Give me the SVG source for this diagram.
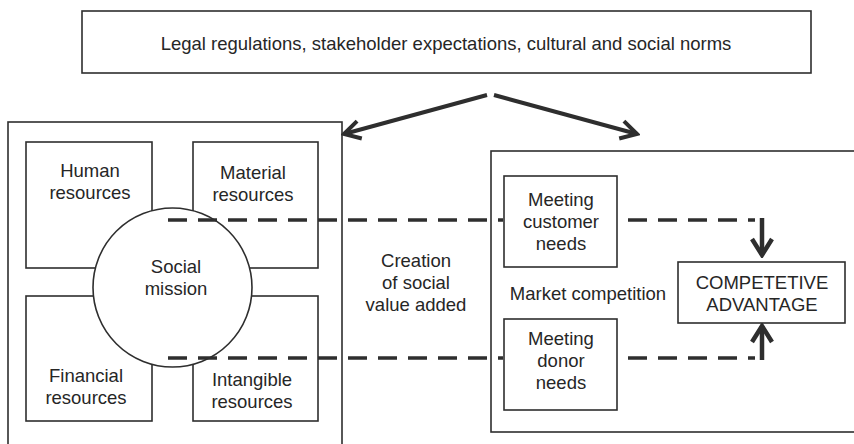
<svg xmlns="http://www.w3.org/2000/svg" width="854" height="444" viewBox="0 0 854 444">
  <style>
    .box { fill: #ffffff; stroke: #2e2e2e; stroke-width: 1.6; }
    .frame { fill: none; stroke: #2e2e2e; stroke-width: 1.6; }
    .lbl { font-family: "Liberation Sans", Arial, Helvetica, sans-serif; font-size: 18.5px; fill: #262626; text-anchor: middle; }
    .dash { fill: none; stroke: #2e2e2e; stroke-width: 3.6; stroke-dasharray: 19 11; }
    .arrow { fill: none; stroke: #2e2e2e; stroke-width: 4; marker-end: url(#chev); }
    .shaft { fill: none; stroke: #2e2e2e; stroke-width: 4.5; marker-end: url(#chevBold); }
  </style>
  <defs>
    <marker id="chev" viewBox="0 0 22 22" refX="19" refY="11" markerWidth="22" markerHeight="22" markerUnits="userSpaceOnUse" orient="auto">
      <path d="M3,2 L19,11 L3,20" fill="none" stroke="#2e2e2e" stroke-width="4" stroke-linejoin="miter"/>
    </marker>
    <marker id="chevBold" viewBox="0 0 22 24" refX="19" refY="12" markerWidth="22" markerHeight="24" markerUnits="userSpaceOnUse" orient="auto">
      <path d="M3,2 L19,12 L3,22" fill="none" stroke="#2e2e2e" stroke-width="4.5" stroke-linejoin="miter"/>
    </marker>
  </defs>

  <rect width="854" height="444" fill="#ffffff"/>

  <!-- external environment -->
  <g id="environment">
    <rect x="82" y="11" width="729" height="62" class="frame" stroke-width="2"/>
    <text class="lbl" x="446" y="50">Legal regulations, stakeholder expectations, cultural and social norms</text>
  </g>

  <!-- organisation (left container) -->
  <g id="organisation">
    <rect x="8" y="122" width="334" height="340" class="frame"/>
  </g>

  <g id="human-resources">
    <rect x="26" y="142" width="126" height="126" class="box"/>
    <text class="lbl" x="90" y="177">Human</text>
    <text class="lbl" x="90" y="199">resources</text>
  </g>
  <g id="material-resources">
    <rect x="193" y="142" width="125" height="126" class="box"/>
    <text class="lbl" x="253" y="179">Material</text>
    <text class="lbl" x="253" y="201">resources</text>
  </g>
  <g id="financial-resources">
    <rect x="26" y="296" width="126" height="125" class="box"/>
    <text class="lbl" x="86" y="382">Financial</text>
    <text class="lbl" x="86" y="404">resources</text>
  </g>
  <g id="intangible-resources">
    <rect x="193" y="296" width="125" height="125" class="box"/>
    <text class="lbl" x="252" y="386">Intangible</text>
    <text class="lbl" x="252" y="408">resources</text>
  </g>
  <g id="social-mission">
    <circle cx="172.5" cy="287.5" r="79.5" class="box"/>
    <text class="lbl" x="176" y="273">Social</text>
    <text class="lbl" x="176" y="295">mission</text>
  </g>

  <g id="social-value">
    <text class="lbl" x="416" y="267">Creation</text>
    <text class="lbl" x="416" y="289">of social</text>
    <text class="lbl" x="416" y="311">value added</text>
  </g>

  <!-- market (right container) -->
  <g id="market">
    <rect x="491" y="151" width="380" height="281" class="frame"/>
    <text class="lbl" x="588" y="300">Market competition</text>
  </g>
  <g id="customer-needs">
    <rect x="504" y="176" width="113" height="91" class="box"/>
    <text class="lbl" x="561" y="206">Meeting</text>
    <text class="lbl" x="561" y="228">customer</text>
    <text class="lbl" x="561" y="250">needs</text>
  </g>
  <g id="donor-needs">
    <rect x="504" y="319" width="113" height="91" class="box"/>
    <text class="lbl" x="561" y="345">Meeting</text>
    <text class="lbl" x="561" y="367">donor</text>
    <text class="lbl" x="561" y="389">needs</text>
  </g>
  <g id="competitive-advantage">
    <rect x="678" y="262" width="167" height="61" class="box"/>
    <text class="lbl" x="762" y="289">COMPETETIVE</text>
    <text class="lbl" x="762" y="311">ADVANTAGE</text>
  </g>

  <!-- connectors -->
  <g id="connectors">
    <line x1="487" y1="95" x2="344" y2="134" class="arrow"/>
    <line x1="494" y1="95" x2="637" y2="134" class="arrow"/>

    <path d="M168,220 H503" class="dash"/>
    <path d="M628,220 H755" class="dash"/>
    <path d="M168,358 H503" class="dash"/>
    <path d="M628,358 H755" class="dash"/>

    <line x1="762" y1="218" x2="762" y2="255" class="shaft"/>
    <line x1="762" y1="360" x2="762" y2="326" class="shaft"/>
  </g>
</svg>
